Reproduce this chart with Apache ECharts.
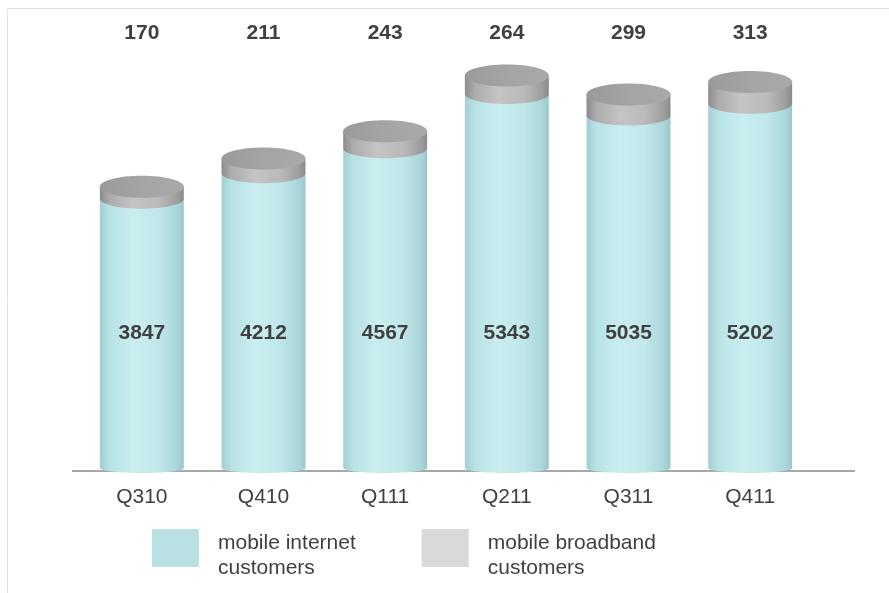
<!DOCTYPE html>
<html>
<head>
<meta charset="utf-8">
<style>
  html, body { margin: 0; padding: 0; background: #ffffff; }
  #chart { width: 889px; height: 593px; }
</style>
<script src="https://cdn.jsdelivr.net/npm/echarts@6/dist/echarts.min.js"></script>
</head>
<body>
<div id="chart"></div>
<script>
// Quarterly customer base (thousands)
const categories = ['Q310', 'Q410', 'Q111', 'Q211', 'Q311', 'Q411'];
const internetCustomers = [3847, 4212, 4567, 5343, 5035, 5202];
const broadbandCustomers = [170, 211, 243, 264, 299, 313];

const seriesNames = ['mobile internet customers', 'mobile broadband customers'];

// value levels at which the label rows sit
const INNER_LABEL_LEVEL = 1930;
const TOP_LABEL_LEVEL = 6210;

const BAR_RATIO = 0.69;
const FONT = '"Liberation Sans", Arial, sans-serif';
const TEXT_COLOR = '#404040';
const K = 0.5523;

function halfEllipseDown(cx, y, rx, ry) {
  // bottom half of an ellipse, from left point to right point
  const x0 = cx - rx, x1 = cx + rx;
  return 'C' + x0 + ' ' + (y + K * ry) + ' ' + (cx - K * rx) + ' ' + (y + ry) + ' ' + cx + ' ' + (y + ry) +
         ' C' + (cx + K * rx) + ' ' + (y + ry) + ' ' + x1 + ' ' + (y + K * ry) + ' ' + x1 + ' ' + y;
}

function fullEllipse(cx, cy, rx, ry) {
  const x0 = cx - rx, x1 = cx + rx;
  return 'M' + x0 + ' ' + cy + ' ' + halfEllipseDown(cx, cy, rx, ry) +
    ' C' + x1 + ' ' + (cy - K * ry) + ' ' + (cx + K * rx) + ' ' + (cy - ry) + ' ' + cx + ' ' + (cy - ry) +
    ' C' + (cx - K * rx) + ' ' + (cy - ry) + ' ' + x0 + ' ' + (cy - K * ry) + ' ' + x0 + ' ' + cy + ' Z';
}

function hGradient(stops) {
  return new echarts.graphic.LinearGradient(0, 0, 1, 0,
    stops.map(s => ({ offset: s[0], color: s[1] })));
}

function renderInternet(params, api) {
  const i = api.value(0);
  const v = api.value(1);
  const base = api.coord([i, 0]);
  const top = api.coord([i, v]);
  const w = api.size([1, 0])[0] * BAR_RATIO;
  const rx = w / 2;
  const cx = base[0];
  const x0 = cx - rx, x1 = cx + rx;
  const path = 'M' + x0 + ' ' + top[1] + ' L' + x0 + ' ' + base[1] + ' ' +
    halfEllipseDown(cx, base[1], rx, 5) + ' L' + x1 + ' ' + top[1] + ' Z';
  const labelY = api.coord([i, INNER_LABEL_LEVEL])[1];
  return {
    type: 'group',
    children: [
      {
        type: 'path',
        shape: { pathData: path },
        style: {
          fill: hGradient([[0, '#a2cfd3'], [0.12, '#b8e2e5'], [0.4, '#c9eef0'],
                           [0.7, '#c0e7ea'], [0.92, '#aad6da'], [1, '#98c7cb']])
        }
      },
      {
        type: 'text',
        style: {
          text: String(v), x: cx, y: labelY, align: 'center', verticalAlign: 'middle',
          font: 'bold 21px ' + FONT, fill: TEXT_COLOR
        }
      }
    ]
  };
}

function renderBroadband(params, api) {
  const i = api.value(0);
  const low = api.value(1);
  const v = api.value(2);
  const yLow = api.coord([i, low])[1];
  const pTop = api.coord([i, low + v]);
  const yTop = pTop[1];
  const cx = pTop[0];
  const w = api.size([1, 0])[0] * BAR_RATIO;
  const rx = w / 2;
  const x0 = cx - rx, x1 = cx + rx;
  const band = 'M' + x0 + ' ' + yTop + ' L' + x0 + ' ' + yLow + ' ' +
    halfEllipseDown(cx, yLow, rx, 10) + ' L' + x1 + ' ' + yTop + ' Z';
  const labelY = api.coord([i, TOP_LABEL_LEVEL])[1];
  return {
    type: 'group',
    children: [
      {
        type: 'path',
        shape: { pathData: band },
        style: {
          fill: hGradient([[0, '#8c8c8c'], [0.12, '#acacac'], [0.4, '#c4c4c4'],
                           [0.7, '#bababa'], [0.92, '#9e9e9e'], [1, '#8a8a8a']])
        }
      },
      {
        type: 'path',
        shape: { pathData: fullEllipse(cx, yTop, rx, 11) },
        style: {
          fill: hGradient([[0, '#9a9a9a'], [0.5, '#a4a4a4'], [1, '#a9a9a9']])
        }
      },
      {
        type: 'text',
        style: {
          text: String(v), x: cx, y: labelY, align: 'center', verticalAlign: 'middle',
          font: 'bold 21px ' + FONT, fill: TEXT_COLOR
        }
      }
    ]
  };
}

const chart = echarts.init(document.getElementById('chart'), null, { renderer: 'canvas' });

chart.setOption({
  animation: false,
  backgroundColor: '#ffffff',
  grid: { left: 81, right: 78, top: 48, bottom: 125 },
  xAxis: {
    type: 'category',
    data: categories,
    axisLine: { show: false },
    axisTick: { show: false },
    axisLabel: { margin: 19, fontSize: 21, fontFamily: FONT, color: TEXT_COLOR }
  },
  yAxis: { type: 'value', min: 0, max: 6000, show: false },
  legend: {
    left: 152,
    top: 518,
    padding: 0,
    itemWidth: 47,
    itemHeight: 38,
    itemGap: 66,
    icon: 'rect',
    // a short spacer line above the two-line name drops the text below the swatch centre
    formatter: name => '{s| }\n{t|' + name.replace(' customers', '}\n{t|customers}'),
    textStyle: {
      fontFamily: FONT, color: TEXT_COLOR, padding: [0, 0, 0, 14],
      rich: {
        s: { fontSize: 10, lineHeight: 15 },
        t: { fontSize: 21, lineHeight: 25, fontFamily: FONT, color: TEXT_COLOR }
      }
    },
    data: seriesNames
  },
  graphic: [
    {
      type: 'rect',
      left: 5, top: 6,
      shape: { width: 900, height: 620 },
      style: { fill: 'none', stroke: '#e2e2e2', lineWidth: 1 },
      silent: true
    },
    {
      type: 'line',
      shape: { x1: 72, y1: 471, x2: 855, y2: 471 },
      style: { stroke: '#a8a8a8', lineWidth: 2 },
      silent: true
    }
  ],
  series: [
    {
      name: seriesNames[0],
      type: 'custom',
      itemStyle: { color: '#b9e1e4' },
      renderItem: renderInternet,
      encode: { x: 0, y: 1 },
      data: internetCustomers.map((v, i) => [i, v])
    },
    {
      name: seriesNames[1],
      type: 'custom',
      itemStyle: { color: '#d9d9d9' },
      renderItem: renderBroadband,
      encode: { x: 0, y: [1, 2] },
      data: broadbandCustomers.map((v, i) => [i, internetCustomers[i], v])
    }
  ]
});
</script>
</body>
</html>
